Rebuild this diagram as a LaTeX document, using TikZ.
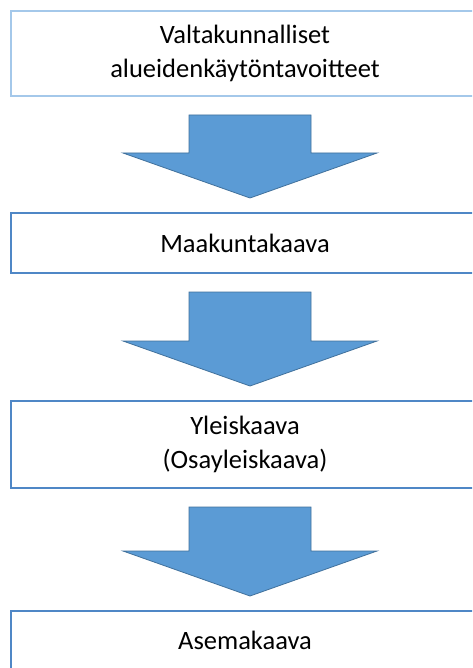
\documentclass[tikz,border=0pt]{standalone}
\usepackage{fontspec}
\setmainfont{Carlito}
\usepackage{tikz}
\usetikzlibrary{positioning,calc}

\definecolor{boxblue}{HTML}{4F87C6}
\definecolor{paleblue}{HTML}{A4C8EA}
\definecolor{arrowblue}{HTML}{5B9BD5}
\definecolor{arrowedge}{HTML}{41719C}

\begin{document}
\begin{tikzpicture}[x=1pt,y=-1pt,
  level/.style={draw=boxblue,line width=2pt,minimum width=468pt,align=center,
    font=\fontsize{26.5}{34}\selectfont,inner sep=0pt},
  blockarrow/.style={fill=arrowblue,draw=arrowedge,line width=0.8pt}]
% Page
\clip (0,0) rectangle (472,668);
\fill[white] (0,0) rectangle (472,668);

% Planning levels
\node[level,draw=paleblue,minimum height=85pt] (valt) at (245,53.5)
  {Valtakunnalliset\\alueidenkäytöntavoitteet};
\node[level,minimum height=60pt] (maak) at (245,243) {Maakuntakaava};
\node[level,minimum height=87pt] (yleis) at (245,444.5)
  {Yleiskaava\\(Osayleiskaava)};
\node[level,minimum height=58pt] (asema) at (245,640) {Asemakaava};

% Block arrows
\foreach \a/\b in {valt/maak,maak/yleis,yleis/asema}
  \filldraw[blockarrow] let \p1=($(\a.south)+(5,18)$), \p2=($(\b.north)+(5,-14)$) in
    (\x1-61pt,\y1) -- (\x1+61pt,\y1) -- (\x1+61pt,\y2+45pt) -- (\x1+127pt,\y2+45pt)
    -- (\x2,\y2) -- (\x1-127pt,\y2+45pt) -- (\x1-61pt,\y2+45pt) -- cycle;
\end{tikzpicture}
\end{document}
